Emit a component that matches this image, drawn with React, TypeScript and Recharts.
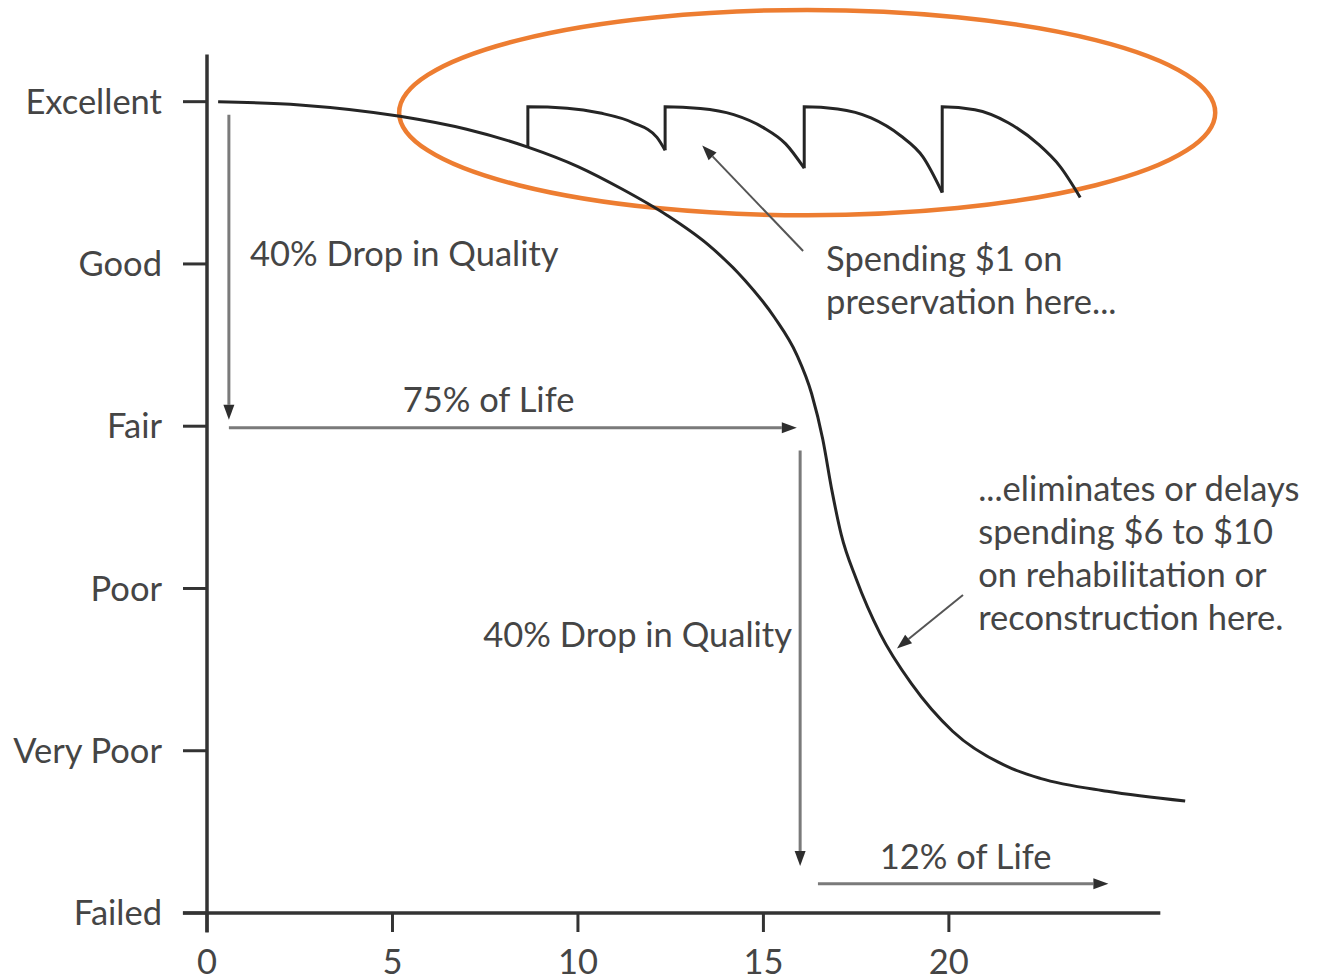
import React from 'react';
import { ComposedChart, Line, XAxis, YAxis, ReferenceLine, ReferenceDot, ReferenceArea } from 'recharts';

// Condition levels, bottom to top
const qualityLabels = ['Failed', 'Very Poor', 'Poor', 'Fair', 'Good', 'Excellent'];
const qualityTicks = [0, 1, 2, 3, 4, 5];
const yearTicks = [0, 5, 10, 15, 20];

// Pavement condition without preservation (years, condition)
const deteriorationCurve = [
  { x: 0.3, y: 5.0 },
  { x: 2.5, y: 4.98 },
  { x: 5.2, y: 4.91 },
  { x: 7.0, y: 4.83 },
  { x: 8.65, y: 4.72 },
  { x: 10.0, y: 4.6 },
  { x: 11.2, y: 4.46 },
  { x: 12.4, y: 4.3 },
  { x: 13.5, y: 4.12 },
  { x: 14.5, y: 3.9 },
  { x: 15.3, y: 3.67 },
  { x: 15.9, y: 3.44 },
  { x: 16.3, y: 3.2 },
  { x: 16.6, y: 2.92 },
  { x: 16.85, y: 2.6 },
  { x: 17.1, y: 2.33 },
  { x: 17.5, y: 2.06 },
  { x: 18.15, y: 1.72 },
  { x: 19.0, y: 1.41 },
  { x: 20.1, y: 1.12 },
  { x: 21.7, y: 0.89 },
  { x: 22.46, y: 0.83 },
  { x: 24.27, y: 0.75 },
  { x: 26.37, y: 0.69 },
];

// Preservation treatments: each cycle jumps back up, then decays
const preservationCycle1 = [
  { x: 8.65, y: 4.72 },
  { x: 8.65, y: 4.968 },
  { x: 9.71, y: 4.96 },
  { x: 10.6, y: 4.93 },
  { x: 11.49, y: 4.87 },
  { x: 12.13, y: 4.78 },
  { x: 12.35, y: 4.7 },
];
const preservationCycle2 = [
  { x: 12.35, y: 4.7 },
  { x: 12.35, y: 4.968 },
  { x: 13.3, y: 4.958 },
  { x: 14.2, y: 4.92 },
  { x: 15.0, y: 4.84 },
  { x: 15.6, y: 4.74 },
  { x: 16.1, y: 4.59 },
];
const preservationCycle3 = [
  { x: 16.1, y: 4.59 },
  { x: 16.1, y: 4.968 },
  { x: 17.0, y: 4.955 },
  { x: 17.9, y: 4.9 },
  { x: 18.7, y: 4.79 },
  { x: 19.3, y: 4.66 },
  { x: 19.82, y: 4.44 },
];
const preservationCycle4 = [
  { x: 19.82, y: 4.44 },
  { x: 19.82, y: 4.968 },
  { x: 20.7, y: 4.95 },
  { x: 21.6, y: 4.87 },
  { x: 22.4, y: 4.74 },
  { x: 23.0, y: 4.6 },
  { x: 23.54, y: 4.41 },
];
const preservationCycles = [preservationCycle1, preservationCycle2, preservationCycle3, preservationCycle4];

// Arrows: [from, to] in chart units
const arrows = [
  { from: [0.59, 4.92], to: [0.59, 3.04], color: '#7a7a7a', width: 3 },
  { from: [0.59, 2.99], to: [15.9, 2.99], color: '#7a7a7a', width: 3 },
  { from: [15.99, 2.85], to: [15.99, 0.29], color: '#7a7a7a', width: 3 },
  { from: [16.47, 0.18], to: [24.3, 0.18], color: '#7a7a7a', width: 3 },
  { from: [16.07, 4.08], to: [13.35, 4.73], color: '#555', width: 2 },
  { from: [20.38, 1.96], to: [18.6, 1.63], color: '#555', width: 2 },
];

const notes = [
  { x: 1.16, y: 3.99, anchor: 'start', lines: ['40% Drop in Quality'] },
  { x: 7.59, y: 3.09, anchor: 'middle', lines: ['75% of Life'] },
  { x: 11.61, y: 1.64, anchor: 'middle', lines: ['40% Drop in Quality'] },
  { x: 20.45, y: 0.27, anchor: 'middle', lines: ['12% of Life'] },
  { x: 16.69, y: 3.957, anchor: 'start', lines: ['Spending $1 on', 'preservation here...'] },
  {
    x: 20.79,
    y: 2.54,
    anchor: 'start',
    lines: ['...eliminates or delays', 'spending $6 to $10', 'on rehabilitation or', 'reconstruction here.'],
  },
];

const FONT = 'Lato, "Open Sans", sans-serif';
const TEXT = '#454545';
const AXIS = '#333';
const FONT_SIZE = 34.5;

const arrowShape = (color: string, width: number) => (props: any) => {
  const { x1, y1, x2, y2 } = props;
  const ang = Math.atan2(y2 - y1, x2 - x1);
  const len = 15;
  const half = 5.5;
  const bx = x2 - len * Math.cos(ang);
  const by = y2 - len * Math.sin(ang);
  const pts = [
    `${x2},${y2}`,
    `${bx - half * Math.sin(ang)},${by + half * Math.cos(ang)}`,
    `${bx + half * Math.sin(ang)},${by - half * Math.cos(ang)}`,
  ].join(' ');
  return (
    <g>
      <line x1={x1} y1={y1} x2={bx} y2={by} stroke={color} strokeWidth={width} />
      <polygon points={pts} fill="#2e2e2e" />
    </g>
  );
};

const App: React.FC = () => {
  return (
    <div style={{ position: 'absolute', left: 0, top: 0, background: '#fff' }}>
      <ComposedChart width={1323} height={980} margin={{ top: 53, right: 133, bottom: 0, left: 0 }}>
        <XAxis
          type="number"
          dataKey="x"
          domain={[0, 26.5]}
          ticks={yearTicks}
          allowDataOverflow
          axisLine={false}
          tickLine={{ stroke: AXIS, strokeWidth: 3 }}
          tickSize={19}
          tickMargin={18}
          height={67}
          tick={{ fill: TEXT, fontSize: FONT_SIZE, fontFamily: FONT }}
        />
        <YAxis
          type="number"
          dataKey="y"
          domain={[0, 5.3]}
          ticks={qualityTicks}
          allowDataOverflow
          axisLine={false}
          tickLine={{ stroke: AXIS, strokeWidth: 3 }}
          tickSize={24}
          tickMargin={21}
          width={207}
          tickFormatter={(v: number) => qualityLabels[v]}
          tick={{ fill: TEXT, fontSize: FONT_SIZE, fontFamily: FONT }}
        />

        {/* axis lines, extended past the origin like the original */}
        <ReferenceLine segment={[{ x: -0.65, y: 0 }, { x: 25.7, y: 0 }]} stroke={AXIS} strokeWidth={3.5} ifOverflow="visible" />
        <ReferenceLine segment={[{ x: 0, y: -0.12 }, { x: 0, y: 5.29 }]} stroke={AXIS} strokeWidth={3.5} ifOverflow="visible" />

        <Line
          data={deteriorationCurve}
          dataKey="y"
          type="monotone"
          stroke="#252525"
          strokeWidth={3}
          dot={false}
          isAnimationActive={false}
        />
        {preservationCycles.map((cycle, i) => (
          <Line
            key={i}
            data={cycle}
            dataKey="y"
            type="monotone"
            stroke="#252525"
            strokeWidth={3}
            dot={false}
            isAnimationActive={false}
          />
        ))}

        {arrows.map((a, i) => (
          <ReferenceLine
            key={`a${i}`}
            segment={[{ x: a.from[0], y: a.from[1] }, { x: a.to[0], y: a.to[1] }]}
            ifOverflow="visible"
            shape={arrowShape(a.color, a.width)}
          />
        ))}

        {notes.map((n, i) => (
          <ReferenceDot
            key={`n${i}`}
            x={n.x}
            y={n.y}
            r={0}
            ifOverflow="visible"
            shape={(p: any) => (
              <text
                x={p.cx}
                y={p.cy}
                textAnchor={n.anchor}
                fill={TEXT}
                fontSize={FONT_SIZE}
                fontFamily={FONT}
              >
                {n.lines.map((l, j) => (
                  <tspan key={j} x={p.cx} dy={j === 0 ? 0 : 43}>
                    {l}
                  </tspan>
                ))}
              </text>
            )}
          />
        ))}

        {/* highlight around the preservation cycles */}
        <ReferenceArea
          x1={5.18}
          x2={27.18}
          y1={4.3}
          y2={5.565}
          ifOverflow="visible"
          shape={(p: any) => (
            <ellipse
              cx={p.x + p.width / 2}
              cy={p.y + p.height / 2}
              rx={Math.abs(p.width) / 2}
              ry={Math.abs(p.height) / 2}
              fill="none"
              stroke="#ED7D31"
              strokeWidth={4.5}
            />
          )}
        />
      </ComposedChart>
    </div>
  );
};

export default App;
